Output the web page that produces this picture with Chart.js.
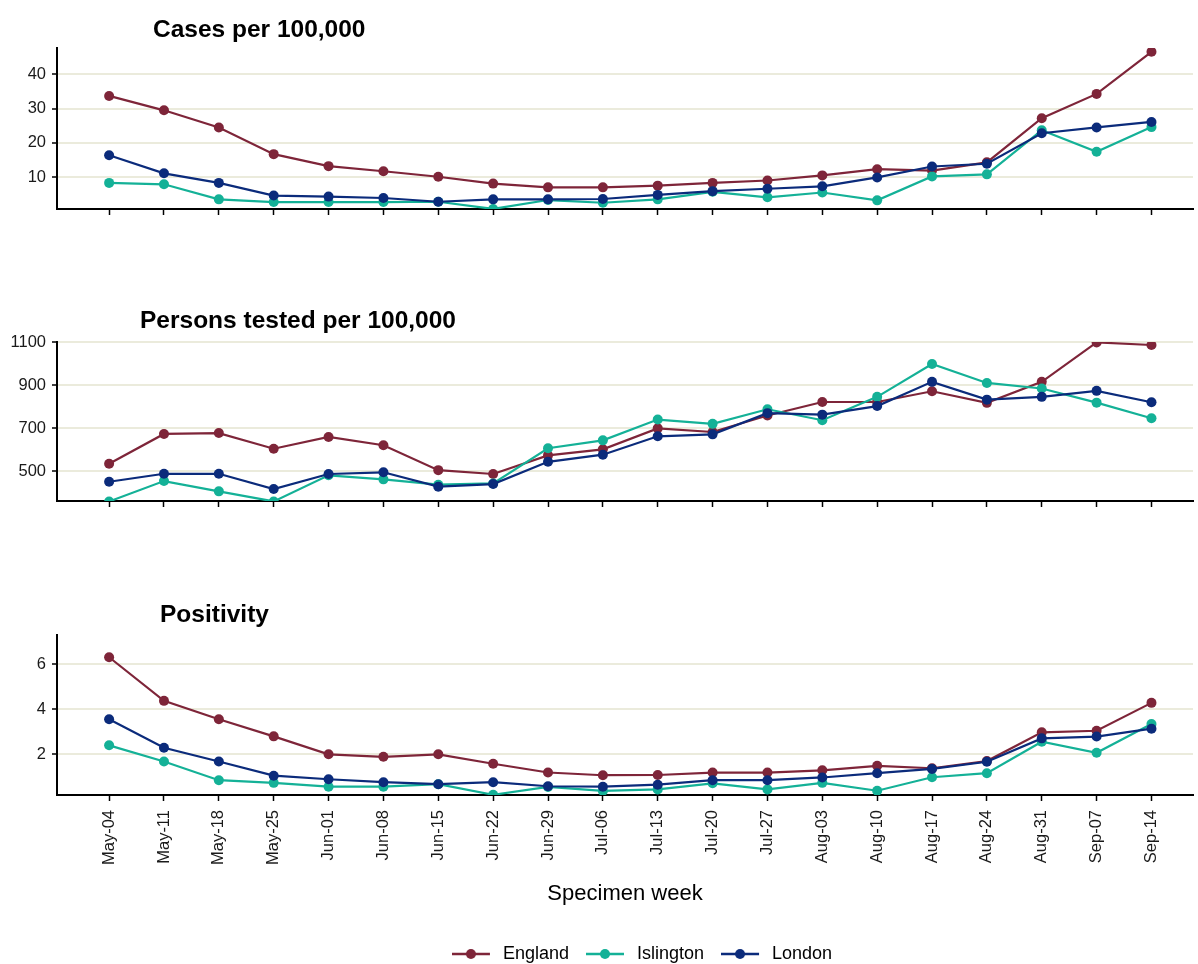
<!DOCTYPE html>
<html>
<head>
<meta charset="utf-8">
<script src="https://cdn.jsdelivr.net/npm/chart.js@4"></script>
<style>
    body { margin: 0; background: #fff; width: 1198px; height: 964px; position: relative; overflow: hidden; font-family: "Liberation Sans", Arial, sans-serif; }
    .panel { position: absolute; left: 0; width: 1198px; }
    .ttl { position: absolute; font-weight: bold; font-size: 24.5px; line-height: 25px; color: #000; white-space: nowrap; }
</style>
</head>
<body>
<div class="panel" style="top:0;height:232px"><canvas id="casesChart"></canvas></div>
<div class="panel" style="top:294px;height:232px"><canvas id="testedChart"></canvas></div>
<div class="panel" style="top:587px;height:377px"><canvas id="positivityChart"></canvas></div>
<div class="ttl" style="left:153px;top:16px">Cases per 100,000</div>
<div class="ttl" style="left:140px;top:307px">Persons tested per 100,000</div>
<div class="ttl" style="left:160px;top:601px">Positivity</div>
<script>
const WEEKS = ['May-04', 'May-11', 'May-18', 'May-25', 'Jun-01', 'Jun-08', 'Jun-15', 'Jun-22', 'Jun-29', 'Jul-06',
    'Jul-13', 'Jul-20', 'Jul-27', 'Aug-03', 'Aug-10', 'Aug-17', 'Aug-24', 'Aug-31', 'Sep-07', 'Sep-14'];
const AREAS = ['England', 'Islington', 'London'];

const CASES_ENGLAND = [33.7, 29.5, 24.5, 16.7, 13.2, 11.7, 10.1, 8.1, 7.0, 7.0, 7.5, 8.3, 9.0, 10.5, 12.3, 11.9, 14.3, 27.2, 34.3, 46.6];
const CASES_ISLINGTON = [8.3, 7.9, 3.5, 2.7, 2.7, 2.7, 2.8, 0.7, 3.3, 2.5, 3.5, 5.7, 4.1, 5.5, 3.2, 10.2, 10.8, 23.7, 17.4, 24.6];
const CASES_LONDON = [16.4, 11.1, 8.3, 4.6, 4.3, 3.9, 2.8, 3.5, 3.5, 3.6, 4.8, 5.9, 6.6, 7.3, 9.9, 13.1, 13.9, 22.8, 24.5, 26.1];

const TESTED_ENGLAND = [534, 673, 677, 604, 659, 620, 504, 486, 573, 601, 699, 682, 759, 822, 822, 872, 818, 916, 1100, 1088];
const TESTED_ISLINGTON = [358, 453, 405, 358, 480, 461, 436, 442, 606, 643, 740, 720, 788, 737, 846, 999, 911, 885, 819, 746];
const TESTED_LONDON = [450, 487, 487, 416, 486, 494, 427, 439, 543, 576, 662, 671, 770, 763, 803, 916, 833, 846, 874, 821];

const POSITIVITY_ENGLAND = [6.31, 4.37, 3.55, 2.79, 1.99, 1.88, 1.99, 1.57, 1.18, 1.06, 1.07, 1.18, 1.18, 1.28, 1.48, 1.37, 1.69, 2.97, 3.04, 4.28];
const POSITIVITY_ISLINGTON = [2.39, 1.67, 0.84, 0.72, 0.55, 0.55, 0.66, 0.19, 0.54, 0.36, 0.43, 0.70, 0.43, 0.72, 0.37, 0.97, 1.15, 2.55, 2.06, 3.34];
const POSITIVITY_LONDON = [3.55, 2.28, 1.67, 1.04, 0.88, 0.75, 0.66, 0.75, 0.57, 0.55, 0.64, 0.84, 0.84, 0.96, 1.15, 1.34, 1.66, 2.70, 2.78, 3.13];

const CASES_TICKS = [10, 20, 30, 40];
const TESTED_TICKS = [500, 700, 900, 1100];
const POSITIVITY_TICKS = [2, 4, 6];

const COLOURS = { England: '#7E2539', Islington: '#14B197', London: '#0B2B7B' };
const FONT = '"Liberation Sans", Arial, sans-serif';

function toPoints(values) {
    return values.map((v, i) => ({ x: i, y: v }));
}

// line + dot key, like the ggplot legend
function legendMarker(colour) {
    const c = document.createElement('canvas');
    c.width = 46; c.height = 12;
    const g = c.getContext('2d');
    g.strokeStyle = colour; g.lineWidth = 2.5;
    g.beginPath(); g.moveTo(0, 6); g.lineTo(38, 6); g.stroke();
    g.fillStyle = colour;
    g.beginPath(); g.arc(19, 6, 5, 0, Math.PI * 2); g.fill();
    return c;
}

const legendShift = {
    id: 'legendShift',
    afterLayout(chart) {
        if (chart.legend && chart.options.plugins.legend.display) {
            chart.legend.left += 45;
            chart.legend.right += 45;
            chart.legend.top += 9;
            chart.legend.bottom += 9;
        }
    }
};

window.drawPanel = (canvasId, series, yMin, yMax, yTicks, xHeight, isBottom) => {
    const ctx = document.getElementById(canvasId).getContext('2d');
    return new Chart(ctx, {
        type: 'line',
        data: {
            datasets: AREAS.map((name, k) => ({
                label: name,
                data: toPoints(series[k]),
                borderColor: COLOURS[name],
                backgroundColor: COLOURS[name],
                borderWidth: 2.2,
                pointRadius: 5,
                pointHoverRadius: 5,
                pointBorderWidth: 0,
                order: 2 - k
            }))
        },
        plugins: [legendShift],
        options: {
            responsive: true,
            maintainAspectRatio: false,
            animation: false,
            layout: { padding: { top: 48, left: 0, right: 0, bottom: 0 } },
            plugins: {
                tooltip: { enabled: false },
                legend: {
                    display: isBottom,
                    position: 'bottom',
                    labels: {
                        usePointStyle: true,
                        pointStyleWidth: 38,
                        padding: 21,
                        color: '#000',
                        font: { family: FONT, size: 18 },
                        generateLabels: () => AREAS.map((name, k) => ({
                            text: name,
                            pointStyle: legendMarker(COLOURS[name]),
                            datasetIndex: k,
                            fontColor: '#000',
                            fillStyle: COLOURS[name],
                            strokeStyle: COLOURS[name],
                            lineWidth: 0,
                            hidden: false
                        }))
                    }
                }
            },
            scales: {
                x: {
                    type: 'linear',
                    min: -0.95,
                    max: 19.757,
                    afterBuildTicks: axis => { axis.ticks = WEEKS.map((w, i) => ({ value: i })); },
                    afterFit: axis => { axis.height = xHeight; },
                    ticks: {
                        display: isBottom,
                        autoSkip: false,
                        maxRotation: 90,
                        minRotation: 90,
                        padding: 9,
                        color: '#1a1a1a',
                        font: { family: FONT, size: 16.5 },
                        callback: v => WEEKS[v]
                    },
                    grid: { drawOnChartArea: false, tickLength: 6, tickColor: '#000', tickWidth: 1.5 },
                    border: { color: '#000', width: 2 },
                    title: {
                        display: isBottom,
                        text: 'Specimen week',
                        color: '#000',
                        font: { family: FONT, size: 22 },
                        padding: { top: 4, bottom: 8 }
                    }
                },
                y: {
                    min: yMin,
                    max: yMax,
                    afterBuildTicks: axis => { axis.ticks = yTicks.map(v => ({ value: v })); },
                    afterFit: axis => { axis.width = 57; },
                    ticks: {
                        padding: 6,
                        color: '#1a1a1a',
                        font: { family: FONT, size: 16.5 },
                        callback: v => String(v)
                    },
                    grid: { color: '#EBEBDC', lineWidth: 2, tickLength: 5, tickColor: '#000', tickWidth: 1.5 },
                    border: { color: '#000', width: 2 }
                }
            }
        }
    });
};

drawPanel('casesChart', [CASES_ENGLAND, CASES_ISLINGTON, CASES_LONDON], 0.68, 47.7, CASES_TICKS, 23, false);
drawPanel('testedChart', [TESTED_ENGLAND, TESTED_ISLINGTON, TESTED_LONDON], 360, 1102, TESTED_TICKS, 25, false);
drawPanel('positivityChart', [POSITIVITY_ENGLAND, POSITIVITY_ISLINGTON, POSITIVITY_LONDON], 0.18, 7.3, POSITIVITY_TICKS, 120, true);
</script>
</body>
</html>
